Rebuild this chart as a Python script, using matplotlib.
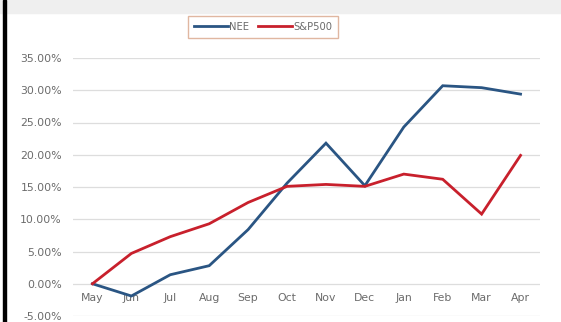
import matplotlib.pyplot as plt
from matplotlib.patches import Rectangle
from matplotlib.ticker import FuncFormatter

months = ["May", "Jun", "Jul", "Aug", "Sep", "Oct", "Nov", "Dec", "Jan", "Feb", "Mar", "Apr"]
nee = [0.0, -1.9, 1.4, 2.8, 8.4, 15.6, 21.8, 15.2, 24.3, 30.7, 30.4, 29.4]
sp500 = [0.0, 4.7, 7.3, 9.3, 12.6, 15.1, 15.4, 15.1, 17.0, 16.2, 10.8, 19.9]
yticks = [-5, 0, 5, 10, 15, 20, 25, 30, 35]

blue = "#2a5583"
red = "#c8202c"
grey_txt = "#6b6b6b"

fig = plt.figure(figsize=(5.61, 3.22), dpi=100)
fig.patches.append(Rectangle((0, 1 - 13 / 322), 1, 13 / 322, transform=fig.transFigure,
                             color="#efefef", zorder=0))
fig.patches.append(Rectangle((3 / 561, 0), 3 / 561, 1, transform=fig.transFigure,
                             color="black", zorder=1))

ax = fig.add_axes([73 / 561, 1 - 316 / 322, 467 / 561, 258 / 322])
x = list(range(len(months)))
ax.plot(x, nee, color=blue, lw=2.0, label="NEE", solid_joinstyle="miter", zorder=3)
ax.plot(x, sp500, color=red, lw=2.0, label="S&P500", solid_joinstyle="miter", zorder=3)

ax.set_ylim(-5, 35)
ax.set_xlim(-0.5, len(months) - 0.5)
ax.set_yticks(yticks)
ax.yaxis.set_major_formatter(FuncFormatter(lambda v, p: f"{v:.2f}%"))
ax.grid(axis="y", color="#dddddd", lw=0.9)
ax.set_axisbelow(True)

ax.set_xticks(x)
ax.set_xticklabels(months)
ax.spines["bottom"].set_position(("data", 0))
for s in ax.spines.values():
    s.set_visible(False)
ax.tick_params(axis="both", length=0, labelsize=7.8, labelcolor=grey_txt)
ax.tick_params(axis="x", pad=7)
ax.tick_params(axis="y", pad=8)

leg = fig.legend(loc="center", bbox_to_anchor=(263 / 561, 1 - 26.5 / 322), ncol=2,
                 frameon=True, fontsize=7.2, handlelength=3.4, handletextpad=0.15,
                 columnspacing=0.8, borderpad=0.6, fancybox=False)
leg.get_frame().set_edgecolor("#d9a58a")
leg.get_frame().set_linewidth(1.0)
for t in leg.get_texts():
    t.set_color(grey_txt)

fig.savefig("out.png", dpi=100)
